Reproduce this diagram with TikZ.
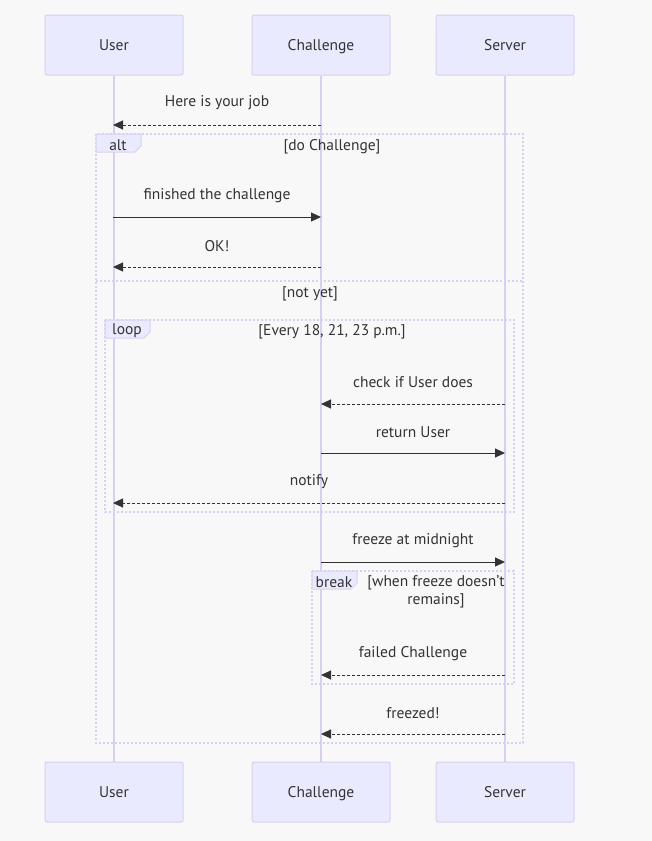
\documentclass[tikz,border=0pt]{standalone}
\usepackage{fontspec}
\setmainfont{PT Sans}
\usepackage{xcolor}
\usetikzlibrary{arrows.meta,positioning}
\definecolor{bgcol}{HTML}{F8F8F8}
\definecolor{actorfill}{HTML}{EAEAFF}
\definecolor{actorline}{HTML}{D9CFF3}
\definecolor{txtcol}{HTML}{333333}

\begin{document}
\begin{tikzpicture}[x=1pt,y=-1pt]
	\tikzstyle{every node}=[font=\fontsize{15.5}{18}\selectfont, text=txtcol]
	\tikzstyle{actor}=[draw=actorline, fill=actorfill, rounded corners=2pt, line width=1pt, minimum width=138pt, minimum height=60pt, inner sep=0pt, text height=2.3ex, text depth=0ex]
	\tikzstyle{lifeline}=[draw=actorline, line width=1.5pt]
	\tikzstyle{call}=[draw=txtcol, line width=1pt, -{Triangle[length=10pt,width=9pt]}]
	\tikzstyle{reply}=[call, dash pattern=on 3pt off 2pt]
	\tikzstyle{frame}=[draw=actorline, line width=1.3pt, dash pattern=on 2pt off 2pt]
	\tikzstyle{tagbox}=[draw=actorline, fill=actorfill, line width=1pt]
	% background and size
	\fill[bgcol] (0,0) rectangle (652,841);
	\useasboundingbox (0,0) rectangle (652,841);
	% actors
	\node[actor] (user) at (114,45) {User};
	\node[actor] (chal) at (321,45) {Challenge};
	\node[actor] (serv) at (505,45) {Server};
	\node[actor] (userB) at (114,792) {User};
	\node[actor] (chalB) at (321,792) {Challenge};
	\node[actor] (servB) at (505,792) {Server};
	\draw[lifeline] (user) -- (userB);
	\draw[lifeline] (chal) -- (chalB);
	\draw[lifeline] (serv) -- (servB);
	% alt frame
	\draw[frame] (96,134) rectangle (523,743);
	\draw[frame] (96,281) -- (523,281);
	\draw[tagbox] (96,134) -- ++(45,0) -- ++(0,12) -- ++(-6,6) -- ++(-39,0) -- cycle;
	\node (altTag) at (118,145) {alt};
	\node (altCond) at (332,147) {[do Challenge]};
	\node (elseCond) at (310,294) {[not yet]};
	% loop frame
	\draw[frame] (105,320) rectangle (514,512);
	\draw[tagbox] (105,320) -- ++(45,0) -- ++(0,12) -- ++(-6,6) -- ++(-39,0) -- cycle;
	\node (loopTag) at (127,331) {loop};
	\node (loopCond) at (332,332) {[Every 18, 21, 23 p.m.]};
	% break frame
	\draw[frame] (312,571) rectangle (514,684);
	\draw[tagbox] (312,571) -- ++(45,0) -- ++(0,12) -- ++(-6,6) -- ++(-39,0) -- cycle;
	\node (breakTag) at (334,582) {break};
	\node[align=center] (breakCond) at (436,592) {[when freeze doesn't\\remains]};
	% message end points
	\coordinate (jobC) at (321,125);   \coordinate (jobU) at (113,125);
	\coordinate (finU) at (113,217);   \coordinate (finC) at (321,217);
	\coordinate (okC) at (321,267);    \coordinate (okU) at (113,267);
	\coordinate (chkS) at (505,404);   \coordinate (chkC) at (321,404);
	\coordinate (retC) at (321,453);   \coordinate (retS) at (505,453);
	\coordinate (notS) at (505,503);   \coordinate (notU) at (113,503);
	\coordinate (frzC) at (321,562);   \coordinate (frzS) at (505,562);
	\coordinate (failS) at (505,675);  \coordinate (failC) at (321,675);
	\coordinate (frzdS) at (505,734);  \coordinate (frzdC) at (321,734);
	% messages
	\node (job) at (217,103) {Here is your job};
	\draw[reply] (jobC) -- (jobU);
	\node (fin) at (217,196) {finished the challenge};
	\draw[call] (finU) -- (finC);
	\node (ok) at (217,246) {OK!};
	\draw[reply] (okC) -- (okU);
	\node (chk) at (413,382) {check if User does};
	\draw[reply] (chkS) -- (chkC);
	\node (ret) at (413,432) {return User};
	\draw[call] (retC) -- (retS);
	\node (notify) at (309,482) {notify};
	\draw[reply] (notS) -- (notU);
	\node (frz) at (413,541) {freeze at midnight};
	\draw[call] (frzC) -- (frzS);
	\node (fail) at (413,654) {failed Challenge};
	\draw[reply] (failS) -- (failC);
	\node (frzd) at (413,713) {freezed!};
	\draw[reply] (frzdS) -- (frzdC);
\end{tikzpicture}
\end{document}
